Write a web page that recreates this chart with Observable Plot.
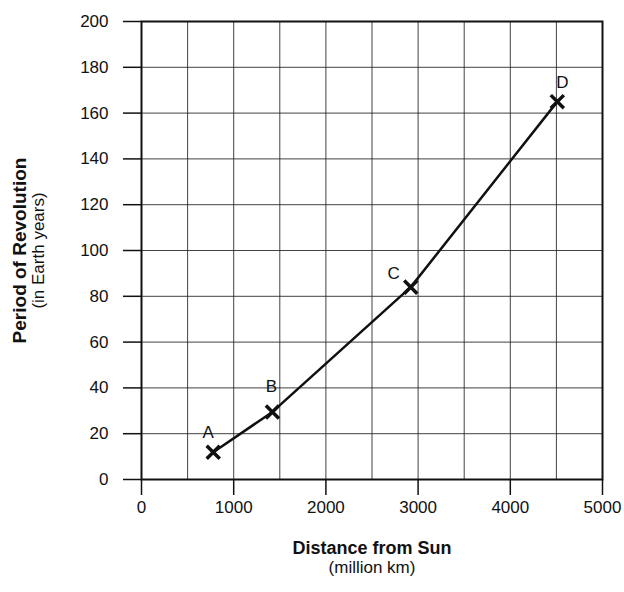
<!DOCTYPE html>
<html>
<head>
<meta charset="utf-8">
<script src="https://cdn.jsdelivr.net/npm/d3@7"></script>
<script src="https://cdn.jsdelivr.net/npm/@observablehq/plot@0.6"></script>
<style>
  html, body { margin: 0; padding: 0; background: #fff; }
  #chart svg { display: block; }
</style>
</head>
<body>
<div id="chart"></div>
<script>
// Data
const planets = ["A", "B", "C", "D"];
const distance = [778, 1420, 2920, 4510];   // million km
const period = [11.9, 29.5, 84, 165];       // Earth years

const xTicks = [0, 1000, 2000, 3000, 4000, 5000];
const xGridValues = [0, 500, 1000, 1500, 2000, 2500, 3000, 3500, 4000, 4500, 5000];
const yTicks = [0, 20, 40, 60, 80, 100, 120, 140, 160, 180, 200];

const xTitle = "Distance from Sun";
const xSubtitle = "(million km)";
const yTitle = "Period of Revolution";
const ySubtitle = "(in Earth years)";

const data = planets.map((p, i) => ({planet: p, distance: distance[i], period: period[i]}));

const font = "'Liberation Sans', Arial, Helvetica, sans-serif";
const labelFor = (name, opts) => Plot.text(data.filter(d => d.planet === name), {
  x: "distance", y: "period", text: "planet", fontSize: 17, fill: "#111", ...opts
});

const chart = Plot.plot({
  width: 624,
  height: 592,
  marginLeft: 141,
  marginRight: 22,
  marginTop: 21,
  marginBottom: 113,
  style: {fontFamily: font, fontSize: "17px", color: "#111", background: "#fff"},
  x: {domain: [0, 5000]},
  y: {domain: [0, 200]},
  marks: [
    Plot.gridX(xGridValues, {stroke: "#222", strokeOpacity: 0.85, strokeWidth: 1}),
    Plot.gridY(yTicks, {stroke: "#222", strokeOpacity: 0.85, strokeWidth: 1}),
    Plot.axisX(xTicks, {tickSize: 16, tickPadding: 5, fontSize: 17, strokeWidth: 1.5, tickFormat: "d", label: null}),
    Plot.axisY(yTicks, {tickSize: 18, tickPadding: 15, fontSize: 17, strokeWidth: 1.5, tickFormat: "d", label: null}),
    Plot.frame({stroke: "#111", strokeWidth: 2}),
    Plot.line(data, {x: "distance", y: "period", curve: "linear", stroke: "#111", strokeWidth: 2.5}),
    Plot.dot(data, {x: "distance", y: "period", symbol: "times", r: 6, stroke: "#111", strokeWidth: 3.5}),
    labelFor("A", {dx: -5, dy: -20}),
    labelFor("B", {dx: -1, dy: -25}),
    labelFor("C", {dx: -17, dy: -14}),
    labelFor("D", {dx: 5, dy: -19}),
    Plot.text([xTitle], {frameAnchor: "bottom", dy: 69, textAnchor: "middle", lineAnchor: "middle", fontWeight: "bold", fontSize: 18, fill: "#111"}),
    Plot.text([xSubtitle], {frameAnchor: "bottom", dy: 88, textAnchor: "middle", lineAnchor: "middle", fontSize: 17, fill: "#111"}),
    Plot.text([yTitle], {frameAnchor: "left", dx: -122, textAnchor: "middle", lineAnchor: "middle", rotate: -90, fontWeight: "bold", fontSize: 19, fill: "#111"}),
    Plot.text([ySubtitle], {frameAnchor: "left", dx: -103, textAnchor: "middle", lineAnchor: "middle", rotate: -90, fontSize: 17, fill: "#111"})
  ]
});
document.getElementById("chart").appendChild(chart);
</script>
</body>
</html>
